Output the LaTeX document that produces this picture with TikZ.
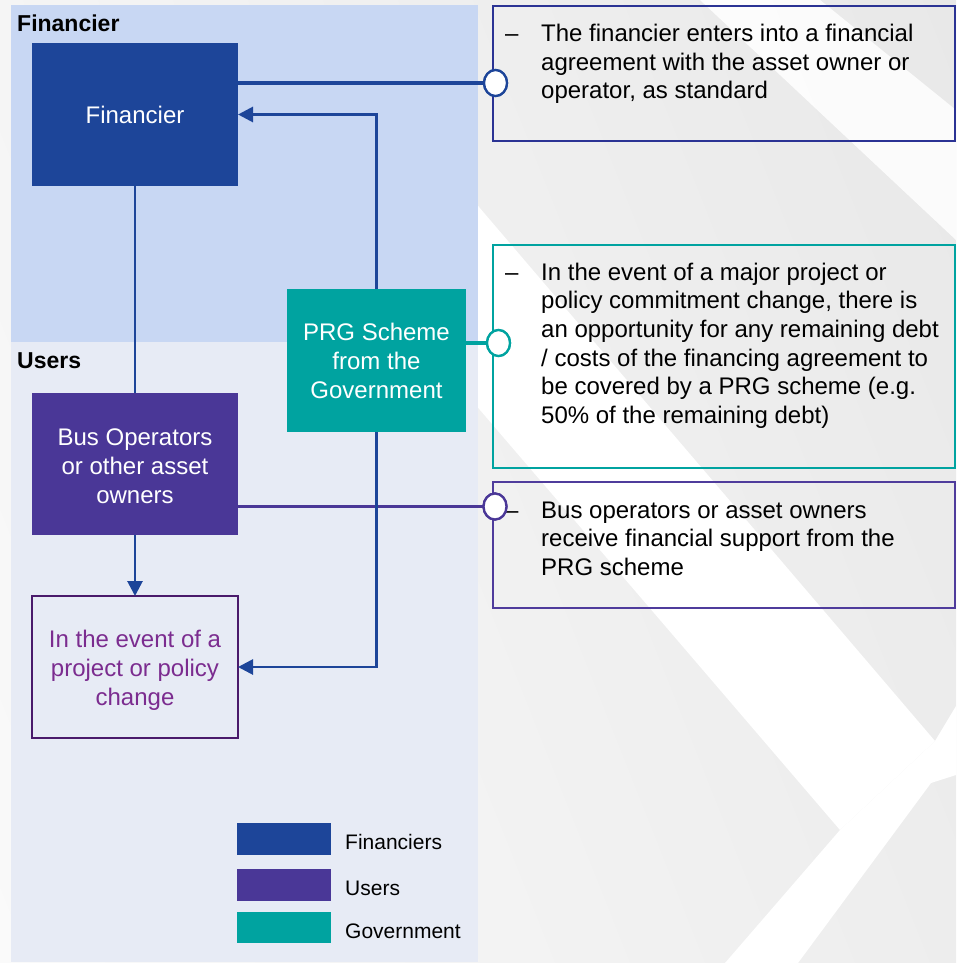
\documentclass[tikz,border=0pt]{standalone}
\usepackage{fontspec}
\setmainfont{Liberation Sans}
\usetikzlibrary{arrows.meta,shapes.geometric,shadings}

\definecolor{finblue}{HTML}{1D4599}
\definecolor{userpurple}{HTML}{4A3797}
\definecolor{govteal}{HTML}{00A3A0}
\definecolor{finzone}{HTML}{C8D7F3}
\definecolor{userzone}{HTML}{E7EBF5}
\definecolor{notenavy}{HTML}{2B3394}
\definecolor{notepurple}{HTML}{4F3C9C}
\definecolor{eventedge}{HTML}{4A1A6B}
\definecolor{eventtext}{HTML}{7B2C8F}

\tikzset{
  actor/.style={rectangle, inner sep=0pt, outer sep=0pt, text=white, align=center,
    minimum width=206pt, minimum height=142pt, font=\fontsize{24}{29}\selectfont},
  note/.style={rectangle, draw, line width=2.2pt, inner sep=0pt, outer sep=0pt,
    anchor=north west, minimum width=462pt},
  % multi-line nodes sit on the baseline of their last line
  notetext/.style={anchor=base west, inner sep=0pt, align=left,
    font=\fontsize{24}{28.7}\selectfont},
  port/.style={ellipse, draw, fill=white, line width=2.3pt, minimum width=23pt,
    minimum height=26pt, inner sep=0pt, outer sep=0pt},
  link/.style={line width=2.8pt},
  tie/.style={line width=3.4pt},
  flow/.style={link, -{Triangle[length=15pt,width=15pt]}},
  zonelabel/.style={anchor=base west, inner sep=0pt, font=\bfseries\fontsize{23}{27}\selectfont},
  swatch/.style={rectangle, inner sep=0pt, outer sep=0pt, minimum width=94pt, minimum height=32pt},
  legendtext/.style={anchor=base west, inner sep=0pt, font=\fontsize{21}{25}\selectfont},
}

\begin{document}
\begin{tikzpicture}[x=1pt, y=-1pt]
\useasboundingbox (0,0) rectangle (956,963);

% backdrop: soft grey with white chevron bands
\shade[upper left=black!4, upper right=black!9, lower left=black!2, lower right=black!7]
  (0,0) rectangle (956,963);
\fill[white] (300,200) -- (473,200) -- (935,741) -- (840,830) -- cycle;
\fill[white] (725,963) -- (840,830) -- (935,741) -- (956,706) -- (956,775)
  -- (931,783) -- (798,963) -- cycle;
\fill[white, opacity=0.85] (700,0) -- (820,0) -- (956,110) -- (956,240) -- cycle;

% swim lanes
\fill[finzone] (11,5) rectangle (478,342);
\fill[userzone] (11,342) rectangle (478,962);
\node[zonelabel] (finlabel) at (17,31.5) {Financier};
\node[zonelabel] (userlabel) at (17,368) {Users};

% actors
\node[actor, fill=finblue, minimum height=143pt] (fin) at (135,114.5) {Financier};
\node[actor, fill=govteal, minimum width=179pt, minimum height=143pt] (prg) at (376.5,360.5)
  {PRG Scheme\\from the\\Government};
\node[actor, fill=userpurple] (bus) at (135,464)
  {\rule{0pt}{20.5pt}Bus Operators\\or other asset\\owners};
\node[actor, draw=eventedge, line width=2.2pt, text=eventtext] (evt) at (135,667)
  {\rule{0pt}{24pt}In the event of a\\project or policy\\change};

% explanatory notes
\node[note, draw=notenavy, minimum height=135pt] (n1) at (493,6) {};
\node[note, draw=govteal, minimum height=223pt] (n2) at (493,245) {};
\node[note, draw=notepurple, minimum height=126pt] (n3) at (493,482) {};

\node[notetext] (d1) at (505,41.5) {–};
\node[notetext] (t1) at (541,98.9)
  {The financier enters into a financial\\agreement with the asset owner or\\operator, as standard};
\node[notetext] (d2) at (505,280) {–};
\node[notetext] (t2) at (541,423.5)
  {In the event of a major project or\\policy commitment change, there is\\an opportunity for any remaining debt\\/ costs of the financing agreement to\\be covered by a PRG scheme (e.g.\\50\% of the remaining debt)};
\node[notetext] (d3) at (505,518) {–};
\node[notetext] (t3) at (541,575.4)
  {Bus operators or asset owners\\receive financial support from the\\PRG scheme};

% connectors
\node[port, draw=finblue] (c1) at (495.5,83) {};
\node[port, draw=govteal] (c2) at (498.5,343) {};
\node[port, draw=userpurple] (c3) at (495,506.5) {};

\draw[tie, finblue] (fin.east |- c1) -- (c1);
\draw[tie, govteal] (prg.east |- c2) -- (c2);
\draw[tie, userpurple] (bus.east |- c3) -- (c3);
\draw[link, finblue] (fin.south) -- (bus.north);
\draw[flow, finblue] (bus.south) -- (evt.north);
\draw[flow, finblue] (prg.north) |- (fin.east);
\draw[flow, finblue] (prg.south) |- (evt.east);

% redraw ports on top of the line ends
\node[port, draw=finblue] at (c1) {};
\node[port, draw=govteal] at (c2) {};
\node[port, draw=userpurple] at (c3) {};

% legend
\node[swatch, fill=finblue] (k1) at (284,839) {};
\node[swatch, fill=userpurple] (k2) at (284,885) {};
\node[swatch, fill=govteal, minimum height=31pt] (k3) at (284,927.5) {};
\node[legendtext] (l1) at (345,849.5) {Financiers};
\node[legendtext] (l2) at (345,895) {Users};
\node[legendtext] (l3) at (345,938.5) {Government};
\end{tikzpicture}
\end{document}
